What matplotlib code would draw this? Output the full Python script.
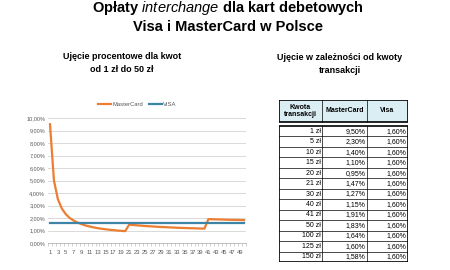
import matplotlib
matplotlib.use("Agg")
import matplotlib.pyplot as plt
from matplotlib.patches import Rectangle
import numpy as np

plt.rcParams['font.family'] = ['Liberation Sans', 'DejaVu Sans']
plt.rcParams['mathtext.fontset'] = 'custom'
plt.rcParams['mathtext.it'] = 'Liberation Sans:italic'
plt.rcParams['mathtext.rm'] = 'Liberation Sans:bold'

# chart data: fee in % for transaction amounts 1..50 zl
amounts_zl = list(range(1, 51))
mastercard = [9.50, 5.00, 3.50, 2.75, 2.30, 2.00, 1.79, 1.63, 1.50, 1.40,
              1.32, 1.25, 1.19, 1.14, 1.10, 1.06, 1.03, 1.00, 0.97, 0.95,
              1.47, 1.44, 1.41, 1.39, 1.36, 1.34, 1.32, 1.30, 1.28, 1.27,
              1.25, 1.24, 1.22, 1.21, 1.20, 1.19, 1.18, 1.17, 1.16, 1.15,
              1.91, 1.90, 1.89, 1.88, 1.87, 1.86, 1.85, 1.85, 1.84, 1.83]
visa = [1.60] * 50

# table data
tab_amounts = ["1 zł", "5 zł", "10 zł", "15 zł", "20 zł", "21 zł", "30 zł",
               "40 zł", "41 zł", "50 zł", "100 zł", "125 zł", "150 zł"]
tab_mc = ["9,50%", "2,30%", "1,40%", "1,10%", "0,95%", "1,47%", "1,27%",
          "1,15%", "1,91%", "1,83%", "1,64%", "1,60%", "1,58%"]
tab_visa = ["1,60%"] * 13
tab_header = ["Kwota\ntransakcji", "MasterCard", "Visa"]

W, H = 450, 270
fig = plt.figure(figsize=(4.5, 2.7), dpi=100)
fig.patch.set_facecolor("white")

# titles
fig.text(228 / W, 1 - 8 / H, "Opłaty $\\it{interchange}$ dla kart debetowych",
         ha="center", va="center", fontsize=10.5, fontweight="bold")
fig.text(228 / W, 1 - 27 / H, "Visa i MasterCard w Polsce",
         ha="center", va="center", fontsize=10.5, fontweight="bold")
fig.text(122 / W, 1 - 63 / H, "Ujęcie procentowe dla kwot\nod 1 zł do 50 zł",
         ha="center", va="center", fontsize=6.5, fontweight="bold", linespacing=1.5)
fig.text(340 / W, 1 - 64 / H, "Ujęcie w zależności od kwoty\ntransakcji",
         ha="center", va="center", fontsize=6.5, fontweight="bold", linespacing=1.5)

# line chart
ax = fig.add_axes([48 / W, 1 - 243 / H, 198 / W, 125 / H])
x = np.array(amounts_zl)
ax.plot(x, mastercard, color="#ED7D31", lw=1.6, label="MasterCard")
ax.plot(x, visa, color="#3E84A6", lw=1.6, label="VISA")
ax.set_xlim(0.5, 50.5)
ax.set_ylim(0, 10)
ax.set_yticks(np.arange(0, 11, 1))
ax.set_yticklabels([f"{v:.2f}%".replace(".", ",") for v in range(0, 11)])
ax.set_xticks(x[::2])
ax.set_xticklabels([str(v) for v in x[::2]])
ax.set_xticks(np.arange(0.5, 51, 1), minor=True)
ax.tick_params(axis="y", length=0, labelsize=4, labelcolor="#595959", pad=2)
ax.tick_params(axis="x", which="major", length=0, labelsize=4.2, labelcolor="#595959", pad=5)
ax.tick_params(axis="x", which="minor", length=2.5, color="#BFBFBF", width=0.5)
ax.grid(axis="y", color="#D9D9D9", lw=0.7)
ax.set_axisbelow(True)
for s in ["top", "right", "left"]:
    ax.spines[s].set_visible(False)
ax.spines["bottom"].set_color("#BFBFBF")
ax.spines["bottom"].set_linewidth(0.7)
ax.legend(loc="lower center", bbox_to_anchor=(0.45, 1.07), ncol=2, frameon=False,
          fontsize=4.2, labelcolor="#595959", handlelength=2.2, handletextpad=0.2,
          columnspacing=1.0, borderaxespad=0)

# table
tx = fig.add_axes([279 / W, 1 - 262 / H, 129 / W, 162 / H])
tx.set_xlim(0, 129)
tx.set_ylim(162, 0)
tx.axis("off")
cols = [0, 43, 88, 129]
tx.add_patch(Rectangle((0, 0), 129, 22, facecolor="#DAEEF3", edgecolor="black", lw=1.2))
for c in cols[1:-1]:
    tx.plot([c, c], [0, 22], color="black", lw=0.5)
for i, h in enumerate(tab_header):
    tx.text((cols[i] + cols[i + 1]) / 2, 11, h, ha="center", va="center",
            fontsize=5, fontweight="bold", linespacing=1.1)
top = 26
rh = 136 / 13
tx.add_patch(Rectangle((0, top), 129, 136, facecolor="white", edgecolor="black", lw=1.2))
for c in cols[1:-1]:
    tx.plot([c, c], [top, top + 136], color="black", lw=0.5)
for r in range(1, 13):
    tx.plot([0, 129], [top + r * rh, top + r * rh], color="black", lw=0.5)
for r in range(13):
    yc = top + (r + 0.5) * rh
    for i, val in enumerate([tab_amounts[r], tab_mc[r], tab_visa[r]]):
        tx.text(cols[i + 1] - 1.5, yc, val, ha="right", va="center", fontsize=5)

fig.savefig("out.png", dpi=100)
